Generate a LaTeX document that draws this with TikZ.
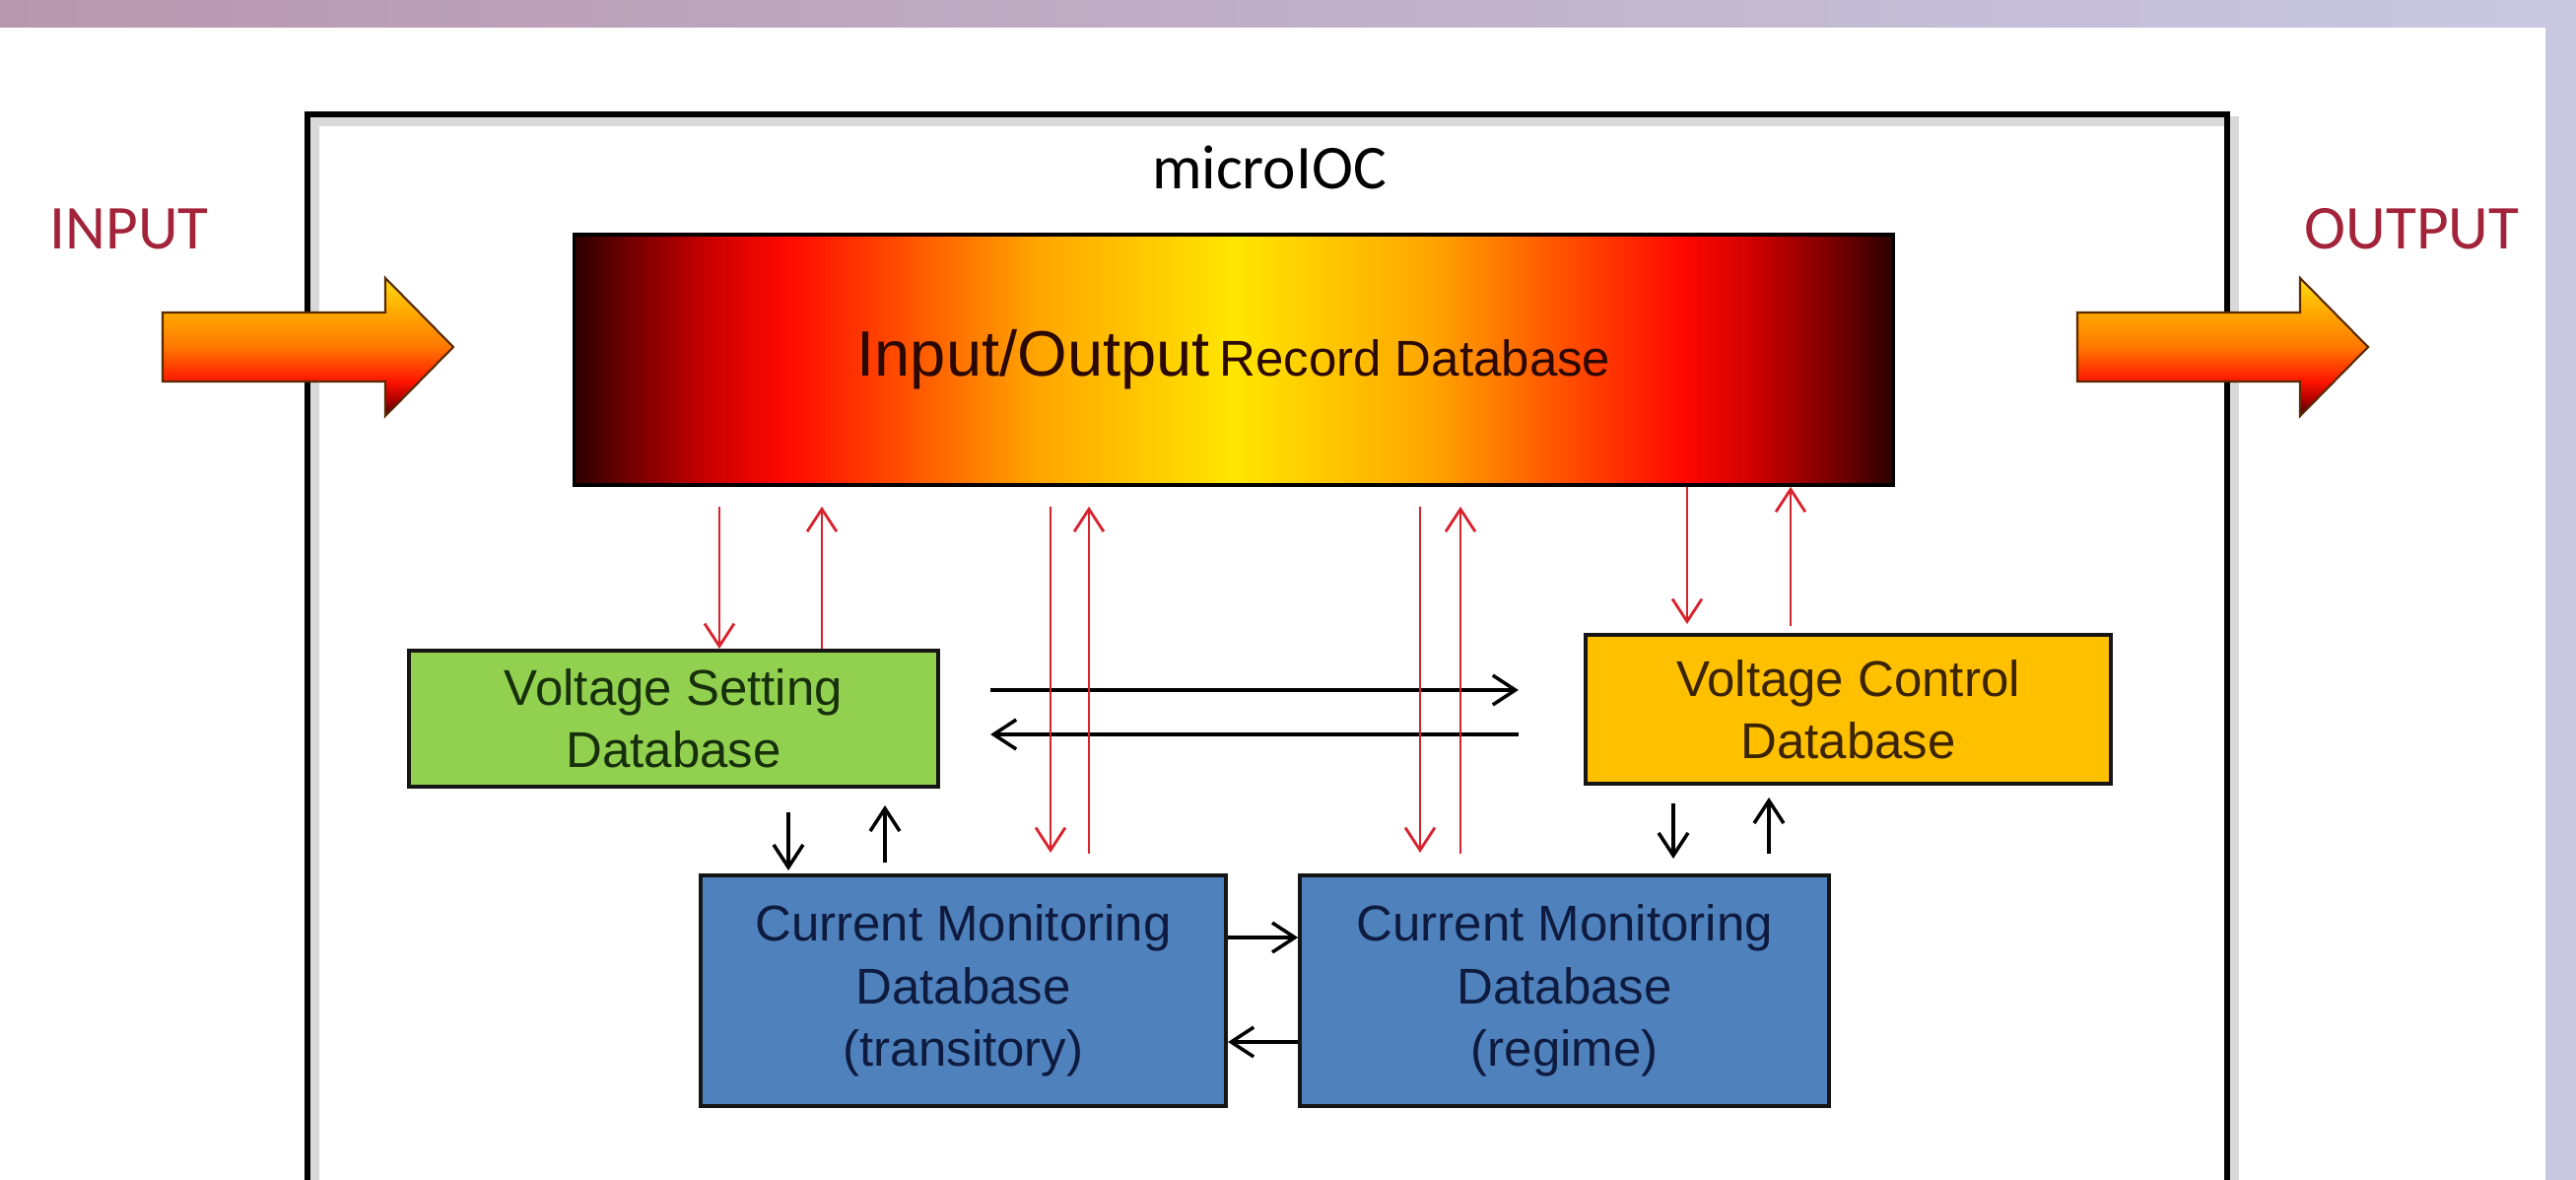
\documentclass[tikz,border=0pt]{standalone}
\usepackage{fontspec}
\setmainfont{Liberation Sans}
\newfontfamily\calib{Carlito}
\usetikzlibrary{positioning,arrows.meta}

\definecolor{bandL}{HTML}{B797AE}
\definecolor{bandM}{HTML}{BDB0CB}
\definecolor{bandR}{HTML}{C8C9E1}
\definecolor{vsgreen}{HTML}{92D050}
\definecolor{vcgold}{HTML}{FFC000}
\definecolor{cmblue}{HTML}{4F81BD}
\definecolor{arrred}{HTML}{D8232E}
\definecolor{iored}{HTML}{A3233A}
\definecolor{ioedge}{HTML}{5A2A00}
\definecolor{boxline}{HTML}{151515}
\definecolor{vstext}{HTML}{17300C}
\definecolor{vctext}{HTML}{3B2400}
\definecolor{cmtext}{HTML}{0E1B3F}
\definecolor{rectext}{HTML}{2B0800}
% record database colours
\definecolor{rk0}{HTML}{2A0000}
\definecolor{rk1}{HTML}{700000}
\definecolor{rk2}{HTML}{C80000}
\definecolor{rk3}{HTML}{FF0800}
\definecolor{rk4}{HTML}{FF5000}
\definecolor{rk5}{HTML}{FFA500}
\definecolor{rk6}{HTML}{FFE600}
% input/output arrow colours
\definecolor{ia0}{HTML}{3C0000}
\definecolor{ia1}{HTML}{B00000}
\definecolor{ia2}{HTML}{FF1400}
\definecolor{ia3}{HTML}{FF7800}
\definecolor{ia4}{HTML}{FFA800}
\definecolor{ia5}{HTML}{FFDC10}

\pgfdeclarehorizontalshading{recshade}{100bp}{color(0bp)=(rk0); color(25bp)=(rk0);
color(27bp)=(rk1); color(30bp)=(rk2); color(33bp)=(rk3); color(37.5bp)=(rk4);
color(42.5bp)=(rk5); color(50bp)=(rk6); color(57.5bp)=(rk5); color(62.5bp)=(rk4);
color(67bp)=(rk3); color(70bp)=(rk2); color(73bp)=(rk1); color(75bp)=(rk0); color(100bp)=(rk0)}
\pgfdeclareverticalshading{ioshade}{100bp}{color(0bp)=(ia0); color(25bp)=(ia0);
color(31bp)=(ia1); color(37.5bp)=(ia2); color(50bp)=(ia3); color(62.5bp)=(ia4);
color(75bp)=(ia5); color(100bp)=(ia5)}

\tikzset{
  dbbox/.style={draw=boxline, line width=1.1pt, inner sep=0pt, align=center,
    font=\fontsize{14.5}{18}\selectfont},
  recbox/.style={draw=black, line width=1pt, inner sep=0pt, shading=recshade, shade,
    minimum width=13.38cm, minimum height=2.54cm, text=rectext},
  ioarrow/.style={shading=ioshade, shade, draw=ioedge, line width=0.6pt},
  iolabel/.style={font=\calib\fontsize{18}{22}\selectfont, text=iored, anchor=base west, inner sep=0pt},
  redarr/.style={draw=arrred, line width=0.8pt, -{Straight Barb[length=6.5pt,width=8.5pt]}},
  blkarr/.style={draw=black, line width=1pt, -{Straight Barb[length=6.5pt,width=8.5pt]}}
}

\begin{document}
\begin{tikzpicture}[x=0.01cm,y=-0.01cm]
\useasboundingbox (0,0) rectangle (2614,1197);
% slide background
\fill[white] (0,0) rectangle (2614,1197);
\shade[left color=bandL, middle color=bandM, right color=bandR] (0,0) rectangle (2614,28);
\fill[bandR] (2583,0) rectangle (2614,1197);

% microIOC frame
\draw[gray!30, line width=3pt, shift={(7,7)}] (312,1210) -- (312,116) -- (2260,116) -- (2260,1210);
\draw[black, line width=1.7pt] (312,1210) -- (312,116) -- (2260,116) -- (2260,1210);
\node[font=\calib\fontsize{18}{22}\selectfont, anchor=base, inner sep=0pt] (title) at (1288,192) {microIOC};

% input and output
\node[iolabel] (inlabel) at (50,253) {INPUT};
\node[iolabel] (outlabel) at (2338,253) {OUTPUT};
\foreach \dx in {0,1943} {
\shade[ioarrow, shift={(\dx,0)}] (165,317) -- (391,317) -- (391,282) -- (460,352)
  -- (391,422) -- (391,387) -- (165,387) -- cycle;}

% databases
\node[recbox] (rec) at (1252,365) {{\fontsize{18.5}{22}\selectfont Input/Output}
  {\fontsize{14.5}{18}\selectfont Record Database}};
\node[dbbox, fill=vsgreen, text=vstext, minimum width=5.37cm, minimum height=1.38cm]
  (vs) at (683.5,729) {Voltage Setting\\Database};
\node[dbbox, fill=vcgold, text=vctext, minimum width=5.33cm, minimum height=1.51cm]
  (vc) at (1875.5,719.5) {Voltage Control\\Database};
\node[dbbox, fill=cmblue, text=cmtext, minimum width=5.33cm, minimum height=2.34cm]
  (cmt) at (977.5,1005) {Current Monitoring\\Database\\(transitory)};
\node[dbbox, fill=cmblue, text=cmtext, minimum width=5.37cm, minimum height=2.34cm,
  right=0.71cm of cmt] (cmr) {Current Monitoring\\Database\\(regime)};

% black links
\draw[blkarr, shorten <=0.51cm, shorten >=0.66cm] (vs.east |- 0,700) -- (vc.west |- 0,700);
\draw[blkarr, shorten <=0.66cm, shorten >=0.51cm] (vc.west |- 0,745) -- (vs.east |- 0,745);
\draw[blkarr] (cmt.east |- 0,951) -- (cmr.west |- 0,951);
\draw[blkarr] (cmr.west |- 0,1057) -- (cmt.east |- 0,1057);
\draw[blkarr, shorten <=0.24cm, shorten >=0.03cm] (vs.south -| 800,0) -- (cmt.north -| 800,0);
\draw[blkarr, shorten <=0.11cm, shorten >=0.17cm] (cmt.north -| 898,0) -- (vs.south -| 898,0);
\draw[blkarr, shorten <=0.18cm, shorten >=0.15cm] (vc.south -| 1698,0) -- (cmr.north -| 1698,0);
\draw[blkarr, shorten <=0.2cm, shorten >=0.12cm] (cmr.north -| 1795,0) -- (vc.south -| 1795,0);

% red links to the record database
\draw[redarr, shorten <=0.2cm] (rec.south -| 730,0) -- (vs.north -| 730,0);
\draw[redarr, shorten >=0.2cm] (vs.north -| 834,0) -- (rec.south -| 834,0);
\foreach \a/\b/\nd in {1066/1105/cmt,1441/1482/cmr} {
\draw[redarr, shorten <=0.2cm, shorten >=0.21cm] (rec.south -| \a,0) -- (\nd.north -| \a,0);
\draw[redarr, shorten <=0.2cm, shorten >=0.2cm] (\nd.north -| \b,0) -- (rec.south -| \b,0);}
\draw[redarr, shorten >=0.09cm] (rec.south -| 1712,0) -- (vc.north -| 1712,0);
\draw[redarr, shorten <=0.07cm] (vc.north -| 1817,0) -- (rec.south -| 1817,0);
\end{tikzpicture}
\end{document}
